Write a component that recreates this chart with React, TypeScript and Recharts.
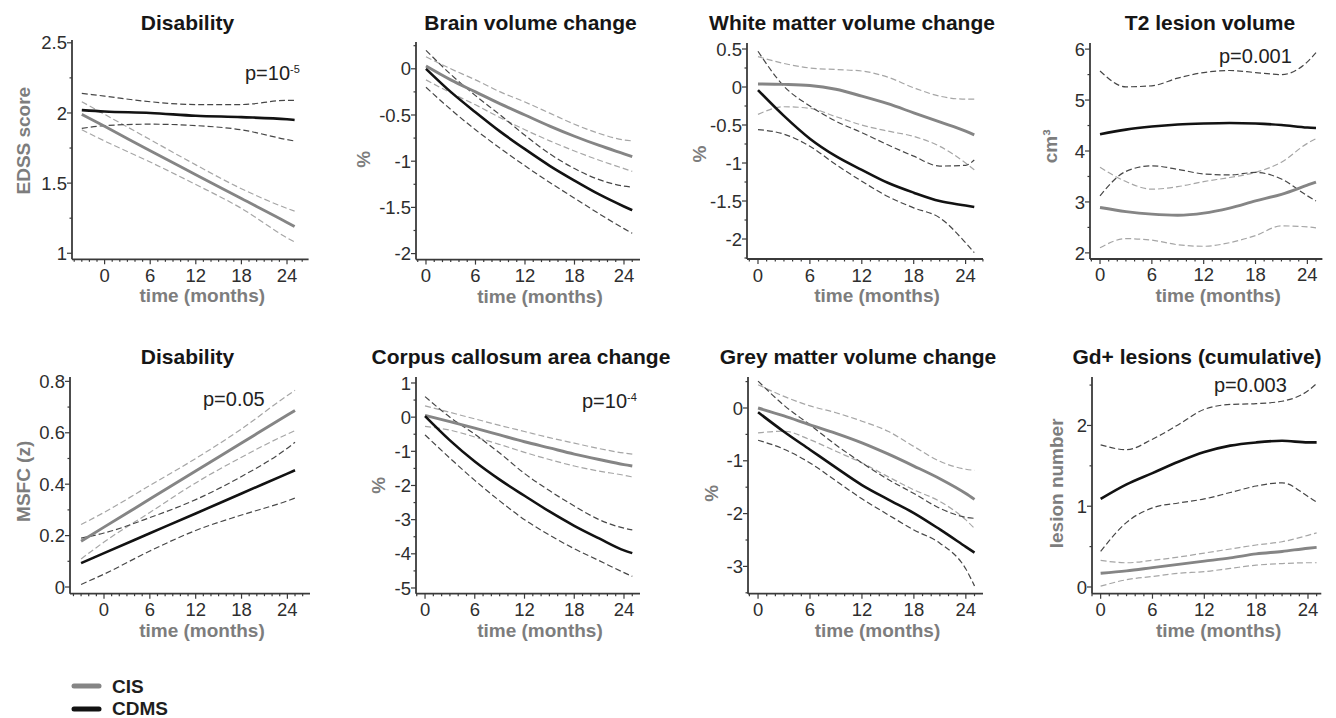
import React from 'react';
import { LineChart, Line, XAxis, YAxis } from 'recharts';

const FONT = '"Liberation Sans", Arial, Helvetica, sans-serif';
const CIS_COLOR = '#858585';
const CIS_BAND = '#a6a6a6';
const CDMS_COLOR = '#121212';
const CDMS_BAND = '#474747';
const AXIS = '#3a3a3a';
const TICK_TEXT = '#2e2e2e';
const LABEL_GREY = '#7d7d7d';

// ---------- Panel 1: Disability (EDSS) ----------
const edssMonths = [-3, 0, 6, 12, 18, 24, 25];
const edssCis = [1.99, 1.905, 1.73, 1.56, 1.39, 1.22, 1.19];
const edssCisLo = [1.88, 1.8, 1.65, 1.49, 1.32, 1.11, 1.08];
const edssCisHi = [2.08, 1.99, 1.81, 1.63, 1.46, 1.32, 1.3];
const edssCdms = [2.02, 2.01, 2.0, 1.98, 1.97, 1.955, 1.95];
const edssCdmsLo = [1.89, 1.91, 1.92, 1.91, 1.88, 1.81, 1.8];
const edssCdmsHi = [2.14, 2.12, 2.08, 2.06, 2.06, 2.09, 2.09];
const edssYTicks = [1, 1.5, 2, 2.5];

// ---------- Panel 2: Brain volume change ----------
const brainMonths = [0, 3, 6, 9, 12, 15, 18, 21, 24, 25];
const brainCis = [0.03, -0.12, -0.25, -0.38, -0.5, -0.62, -0.73, -0.83, -0.92, -0.95];
const brainCisLo = [-0.12, -0.26, -0.39, -0.53, -0.66, -0.78, -0.89, -0.99, -1.08, -1.11];
const brainCisHi = [0.13, 0.0, -0.12, -0.25, -0.36, -0.48, -0.6, -0.7, -0.77, -0.78];
const brainCdms = [0.0, -0.25, -0.47, -0.68, -0.87, -1.05, -1.21, -1.36, -1.49, -1.53];
const brainCdmsLo = [-0.2, -0.44, -0.66, -0.86, -1.05, -1.23, -1.4, -1.57, -1.73, -1.78];
const brainCdmsHi = [0.2, -0.06, -0.29, -0.5, -0.72, -0.92, -1.08, -1.2, -1.27, -1.28];
const brainYTicks = [-2, -1.5, -1, -0.5, 0];

// ---------- Panel 3: White matter volume change ----------
const wmMonths = [0, 3, 6, 9, 12, 15, 18, 21, 24, 25];
const wmCis = [0.04, 0.035, 0.02, -0.03, -0.12, -0.22, -0.34, -0.46, -0.58, -0.63];
const wmCisLo = [-0.36, -0.26, -0.28, -0.39, -0.5, -0.58, -0.65, -0.78, -1.0, -1.09];
const wmCisHi = [0.4, 0.31, 0.25, 0.23, 0.21, 0.13, -0.01, -0.12, -0.16, -0.16];
const wmCdms = [-0.04, -0.38, -0.68, -0.91, -1.09, -1.26, -1.39, -1.5, -1.56, -1.58];
const wmCdmsLo = [-0.56, -0.62, -0.78, -1.02, -1.24, -1.44, -1.59, -1.72, -2.05, -2.18];
const wmCdmsHi = [0.47, 0.01, -0.25, -0.45, -0.6, -0.76, -0.91, -1.04, -1.03, -0.96];
const wmYTicks = [-2, -1.5, -1, -0.5, 0, 0.5];

// ---------- Panel 4: T2 lesion volume ----------
const t2Months = [0, 3, 6, 9, 12, 15, 18, 21, 24, 25];
const t2Cis = [2.89, 2.81, 2.76, 2.74, 2.78, 2.88, 3.02, 3.15, 3.33, 3.39];
const t2CisLo = [2.1, 2.28, 2.25, 2.16, 2.13, 2.2, 2.34, 2.53, 2.51, 2.49];
const t2CisHi = [3.68, 3.4, 3.25, 3.3, 3.4, 3.48, 3.58, 3.78, 4.15, 4.24];
const t2Cdms = [4.33, 4.42, 4.48, 4.52, 4.54, 4.55, 4.54, 4.51, 4.46, 4.45];
const t2CdmsLo = [3.12, 3.6, 3.71, 3.64, 3.55, 3.53, 3.58, 3.45, 3.12, 3.02];
const t2CdmsHi = [5.57, 5.26, 5.28, 5.43, 5.54, 5.58, 5.54, 5.5, 5.75, 5.93];
const t2YTicks = [2, 3, 4, 5, 6];

// ---------- Panel 5: Disability (MSFC) ----------
const msfcMonths = [-3, 0, 6, 12, 18, 24, 25];
const msfcCis = [0.178, 0.233, 0.342, 0.451, 0.56, 0.669, 0.687];
const msfcCisLo = [0.109, 0.175, 0.29, 0.405, 0.505, 0.595, 0.608];
const msfcCisHi = [0.243, 0.29, 0.395, 0.5, 0.615, 0.745, 0.765];
const msfcCdms = [0.093, 0.132, 0.209, 0.286, 0.364, 0.441, 0.454];
const msfcCdmsLo = [0.01, 0.05, 0.14, 0.22, 0.28, 0.335, 0.346];
const msfcCdmsHi = [0.19, 0.21, 0.27, 0.34, 0.43, 0.54, 0.563];
const msfcYTicks = [0, 0.2, 0.4, 0.6, 0.8];

// ---------- Panel 6: Corpus callosum area change ----------
const ccMonths = [0, 3, 6, 9, 12, 15, 18, 21, 24, 25];
const ccCis = [0.05, -0.13, -0.32, -0.52, -0.72, -0.9, -1.08, -1.24, -1.39, -1.43];
const ccCisLo = [-0.27, -0.38, -0.58, -0.8, -1.03, -1.24, -1.43, -1.58, -1.7, -1.75];
const ccCisHi = [0.33, 0.14, -0.05, -0.24, -0.42, -0.6, -0.76, -0.92, -1.05, -1.08];
const ccCdms = [0.03, -0.68, -1.3, -1.83, -2.3, -2.76, -3.18, -3.55, -3.9, -3.98];
const ccCdmsLo = [-0.52, -1.2, -1.85, -2.45, -3.0, -3.45, -3.85, -4.2, -4.55, -4.66];
const ccCdmsHi = [0.6, 0.0, -0.5, -1.05, -1.65, -2.15, -2.6, -3.0, -3.25, -3.3];
const ccYTicks = [-5, -4, -3, -2, -1, 0, 1];

// ---------- Panel 7: Grey matter volume change ----------
const gmMonths = [0, 3, 6, 9, 12, 15, 18, 21, 24, 25];
const gmCis = [0, -0.15, -0.32, -0.48, -0.66, -0.87, -1.1, -1.34, -1.62, -1.73];
const gmCisLo = [-0.47, -0.44, -0.6, -0.82, -1.04, -1.3, -1.55, -1.77, -2.12, -2.28];
const gmCisHi = [0.44, 0.22, 0.04, -0.09, -0.25, -0.44, -0.73, -1.01, -1.16, -1.18];
const gmCdms = [-0.08, -0.45, -0.79, -1.13, -1.46, -1.73, -1.99, -2.3, -2.63, -2.74];
const gmCdmsLo = [-0.61, -0.78, -1.04, -1.38, -1.72, -2.02, -2.31, -2.56, -3.05, -3.37];
const gmCdmsHi = [0.51, 0.05, -0.32, -0.7, -1.04, -1.35, -1.62, -1.9, -2.07, -2.09];
const gmYTicks = [-3, -2, -1, 0];

// ---------- Panel 8: Gd+ lesions (cumulative) ----------
const gdMonths = [0, 3, 6, 9, 12, 15, 18, 21, 24, 25];
const gdCis = [0.17, 0.2, 0.24, 0.28, 0.32, 0.36, 0.41, 0.44, 0.48, 0.49];
const gdCisLo = [0.01, 0.09, 0.13, 0.17, 0.19, 0.23, 0.27, 0.29, 0.3, 0.3];
const gdCisHi = [0.33, 0.3, 0.33, 0.37, 0.42, 0.47, 0.52, 0.56, 0.64, 0.67];
const gdCdms = [1.09, 1.27, 1.41, 1.55, 1.67, 1.75, 1.79, 1.81, 1.79, 1.79];
const gdCdmsLo = [0.44, 0.8, 0.98, 1.04, 1.09, 1.17, 1.25, 1.29, 1.12, 1.05];
const gdCdmsHi = [1.76, 1.7, 1.83, 2.01, 2.2, 2.26, 2.27, 2.3, 2.43, 2.52];
const gdYTicks = [0, 1, 2];

const xMajorTicks = [0, 6, 12, 18, 24];

function rows(t: number[], cis: number[], cisLo: number[], cisHi: number[], cdms: number[], cdmsLo: number[], cdmsHi: number[]) {
  return t.map((m, i) => ({
    t: m,
    cis: cis[i],
    cisLo: cisLo[i],
    cisHi: cisHi[i],
    cdms: cdms[i],
    cdmsLo: cdmsLo[i],
    cdmsHi: cdmsHi[i],
  }));
}

const panels = [
  {
    title: 'Disability', titleX: 187.5, titleTop: 12.2,
    yLabel: 'EDSS score', yLabelOff: 48.7, yLabelDy: -9,
    p: 'p=10', pSup: '-5', pLeft: 245, pTop: 62.5,
    x0: 71.7, x1: 308.3, top: 40, bottom: 259.3,
    xDomain: [-4.29, 26.84], yDomain: [0.957, 2.52], yMajors: edssYTicks,
    data: rows(edssMonths, edssCis, edssCisLo, edssCisHi, edssCdms, edssCdmsLo, edssCdmsHi),
  },
  {
    title: 'Brain volume change', titleX: 530.5, titleTop: 12.2,
    yLabel: '%', yLabelOff: 53, yLabelDy: 8.5,
    x0: 416, x1: 640, top: 41.7, bottom: 259.3,
    xDomain: [-1.21, 25.94], yDomain: [-2.065, 0.29], yMajors: brainYTicks,
    data: rows(brainMonths, brainCis, brainCisLo, brainCisHi, brainCdms, brainCdmsLo, brainCdmsHi),
  },
  {
    title: 'White matter volume change', titleX: 852, titleTop: 12.2,
    yLabel: '%', yLabelOff: 48, yLabelDy: 3,
    x0: 747.3, x1: 983.3, top: 43.3, bottom: 259.3,
    xDomain: [-1.27, 26.01], yDomain: [-2.263, 0.579], yMajors: wmYTicks,
    data: rows(wmMonths, wmCis, wmCisLo, wmCisHi, wmCdms, wmCdmsLo, wmCdmsHi),
  },
  {
    title: 'T2 lesion volume', titleX: 1210, titleTop: 12.2,
    yLabel: 'cm³', yLabelOff: 40, yLabelDy: -4.6,
    p: 'p=0.001', pLeft: 1219, pTop: 45.5,
    x0: 1090.3, x1: 1322.7, top: 43.3, bottom: 259.3,
    xDomain: [-1.16, 25.74], yDomain: [1.88, 6.12], yMajors: t2YTicks,
    data: rows(t2Months, t2Cis, t2CisLo, t2CisHi, t2Cdms, t2CdmsLo, t2CdmsHi),
  },
  {
    title: 'Disability', titleX: 187.5, titleTop: 345.5,
    yLabel: 'MSFC (z)', yLabelOff: 47, yLabelDy: -4,
    p: 'p=0.05', pLeft: 203, pTop: 389,
    x0: 70, x1: 310, top: 377.3, bottom: 594,
    xDomain: [-4.45, 26.96], yDomain: [-0.026, 0.817], yMajors: msfcYTicks,
    data: rows(msfcMonths, msfcCis, msfcCisLo, msfcCisHi, msfcCdms, msfcCdmsLo, msfcCdmsHi),
  },
  {
    title: 'Corpus callosum area change', titleX: 521, titleTop: 345.5,
    yLabel: '%', yLabelOff: 38, yLabelDy: 0,
    p: 'p=10', pSup: '-4', pLeft: 582, pTop: 391,
    x0: 416, x1: 640, top: 377.3, bottom: 594,
    xDomain: [-1.09, 25.93], yDomain: [-5.167, 1.175], yMajors: ccYTicks,
    data: rows(ccMonths, ccCis, ccCisLo, ccCisHi, ccCdms, ccCdmsLo, ccCdmsHi),
  },
  {
    title: 'Grey matter volume change', titleX: 858, titleTop: 345.5,
    yLabel: '%', yLabelOff: 37, yLabelDy: 8,
    x0: 748.3, x1: 983.3, top: 377.3, bottom: 594,
    xDomain: [-1.16, 25.98], yDomain: [-3.517, 0.587], yMajors: gmYTicks,
    data: rows(gmMonths, gmCis, gmCisLo, gmCisHi, gmCdms, gmCdmsLo, gmCdmsHi),
  },
  {
    title: 'Gd+ lesions (cumulative)', titleX: 1197, titleTop: 345.5,
    yLabel: 'lesion number', yLabelOff: 36, yLabelDy: -2,
    p: 'p=0.003', pLeft: 1214, pTop: 374.5,
    x0: 1091.7, x1: 1321, top: 377.3, bottom: 594,
    xDomain: [-1.0, 25.54], yDomain: [-0.083, 2.6], yMajors: gdYTicks,
    data: rows(gdMonths, gdCis, gdCisLo, gdCisHi, gdCdms, gdCdmsLo, gdCdmsHi),
  },
];

function intTicks(domain: number[]) {
  const out: number[] = [];
  for (let v = Math.ceil(domain[0]); v <= Math.floor(domain[1]); v++) out.push(v);
  return out;
}

function halfTicks(domain: number[], majors: number[]) {
  const step = (majors[1] - majors[0]) / 2;
  const out: number[] = [];
  const k0 = Math.ceil(domain[0] / step - 1e-9);
  const k1 = Math.floor(domain[1] / step + 1e-9);
  for (let k = k0; k <= k1; k++) out.push(Math.round(k * step * 10000) / 10000);
  return out;
}

const XTick = (props: any) => {
  const { x, y, payload } = props;
  const v = Math.round(payload.value);
  const major = xMajorTicks.includes(v);
  return (
    <g>
      <line x1={x} x2={x} y1={y} y2={y + (major ? 5 : 2.5)} stroke={AXIS} strokeWidth={1.2} />
      {major && (
        <text x={x} y={y + 22.5} textAnchor="middle" fontSize={18.5} fill={TICK_TEXT} fontFamily={FONT}>
          {v}
        </text>
      )}
    </g>
  );
};

const makeYTick = (majors: number[]) => (props: any) => {
  const { x, y, payload } = props;
  const v = payload.value;
  const major = majors.some((m) => Math.abs(m - v) < 1e-6);
  return (
    <g>
      <line x1={x - (major ? 5 : 2.5)} x2={x} y1={y} y2={y} stroke={AXIS} strokeWidth={1.2} />
      {major && (
        <text x={x - 5} y={y} dy="0.36em" textAnchor="end" fontSize={18.5} fill={TICK_TEXT} fontFamily={FONT}>
          {String(Math.round(v * 1000) / 1000)}
        </text>
      )}
    </g>
  );
};

const makeXLabel = () => (props: any) => {
  const vb = props.viewBox || {};
  const cx = vb.x + vb.width / 2 + 12;
  return (
    <text x={cx} y={vb.y + 43} textAnchor="middle" fontSize={19} fontWeight="bold" fill={LABEL_GREY} fontFamily={FONT}>
      time (months)
    </text>
  );
};

const makeYLabel = (text: string, off: number, dy: number) => (props: any) => {
  const vb = props.viewBox || {};
  const cx = vb.x + vb.width - off;
  const cy = vb.y + vb.height / 2 + dy;
  return (
    <text
      x={cx}
      y={cy}
      dy="0.36em"
      transform={`rotate(-90 ${cx} ${cy})`}
      textAnchor="middle"
      fontSize={19}
      fontWeight="bold"
      fill={LABEL_GREY}
      fontFamily={FONT}
    >
      {text}
    </text>
  );
};

const YW = 72;
const MT = 14;
const MR = 6;
const XH = 52;

function Panel({ cfg }: { cfg: any }) {
  const w = YW + (cfg.x1 - cfg.x0) + MR;
  const h = MT + (cfg.bottom - cfg.top) + XH;
  const band = { strokeWidth: 1.2, strokeDasharray: '6 3', dot: false, activeDot: false, isAnimationActive: false, type: 'monotone' as const };
  return (
    <div style={{ position: 'absolute', left: cfg.x0 - YW, top: cfg.top - MT }}>
      <LineChart width={w} height={h} data={cfg.data} margin={{ top: MT, right: MR, bottom: 0, left: 0 }}>
        <XAxis
          type="number"
          dataKey="t"
          domain={cfg.xDomain}
          allowDataOverflow
          ticks={intTicks(cfg.xDomain)}
          interval={0}
          tickSize={0}
          tickMargin={0}
          tickLine={false}
          tick={XTick}
          axisLine={{ stroke: AXIS, strokeWidth: 1.8 }}
          height={XH}
          label={makeXLabel()}
        />
        <YAxis
          type="number"
          domain={cfg.yDomain}
          allowDataOverflow
          ticks={halfTicks(cfg.yDomain, cfg.yMajors)}
          interval={0}
          tickSize={0}
          tickMargin={0}
          tickLine={false}
          tick={makeYTick(cfg.yMajors)}
          axisLine={{ stroke: AXIS, strokeWidth: 1.8 }}
          width={YW}
          label={makeYLabel(cfg.yLabel, cfg.yLabelOff, cfg.yLabelDy)}
        />
        <Line dataKey="cisLo" stroke={CIS_BAND} {...band} />
        <Line dataKey="cisHi" stroke={CIS_BAND} {...band} />
        <Line dataKey="cdmsLo" stroke={CDMS_BAND} {...band} />
        <Line dataKey="cdmsHi" stroke={CDMS_BAND} {...band} />
        <Line dataKey="cis" stroke={CIS_COLOR} strokeWidth={2.9} dot={false} activeDot={false} isAnimationActive={false} type="monotone" />
        <Line dataKey="cdms" stroke={CDMS_COLOR} strokeWidth={2.6} dot={false} activeDot={false} isAnimationActive={false} type="monotone" />
      </LineChart>
    </div>
  );
}

export default function App() {
  return (
    <div
      style={{
        position: 'absolute',
        left: 0,
        top: 0,
        width: 1336,
        height: 718,
        background: '#ffffff',
        overflow: 'hidden',
        fontFamily: FONT,
      }}
    >
      {panels.map((cfg, i) => (
        <Panel key={'panel' + i} cfg={cfg} />
      ))}
      {panels.map((cfg, i) => (
        <div
          key={'title' + i}
          style={{
            position: 'absolute',
            left: cfg.titleX,
            top: cfg.titleTop,
            transform: 'translateX(-50%)',
            fontSize: 21,
            lineHeight: '21px',
            fontWeight: 'bold',
            color: '#161616',
            whiteSpace: 'nowrap',
          }}
        >
          {cfg.title}
        </div>
      ))}
      {panels
        .filter((cfg) => cfg.p)
        .map((cfg, i) => (
          <div
            key={'p' + i}
            style={{
              position: 'absolute',
              left: cfg.pLeft,
              top: cfg.pTop,
              fontSize: 20,
              lineHeight: '20px',
              color: '#222',
              whiteSpace: 'nowrap',
            }}
          >
            {cfg.p}
            {cfg.pSup && (
              <span style={{ fontSize: 11, position: 'relative', top: -7 }}>{cfg.pSup}</span>
            )}
          </div>
        ))}
      <svg style={{ position: 'absolute', left: 0, top: 658 }} width={220} height={60}>
        <line x1={74} x2={99} y1={28} y2={28} stroke={CIS_COLOR} strokeWidth={5} strokeLinecap="round" />
        <line x1={74} x2={99} y1={51} y2={51} stroke={CDMS_COLOR} strokeWidth={5} strokeLinecap="round" />
        <text x={112} y={34.5} fontSize={19} fontWeight="bold" fill="#1e1e1e" fontFamily={FONT}>
          CIS
        </text>
        <text x={112} y={57} fontSize={19} fontWeight="bold" fill="#1e1e1e" fontFamily={FONT}>
          CDMS
        </text>
      </svg>
    </div>
  );
}
